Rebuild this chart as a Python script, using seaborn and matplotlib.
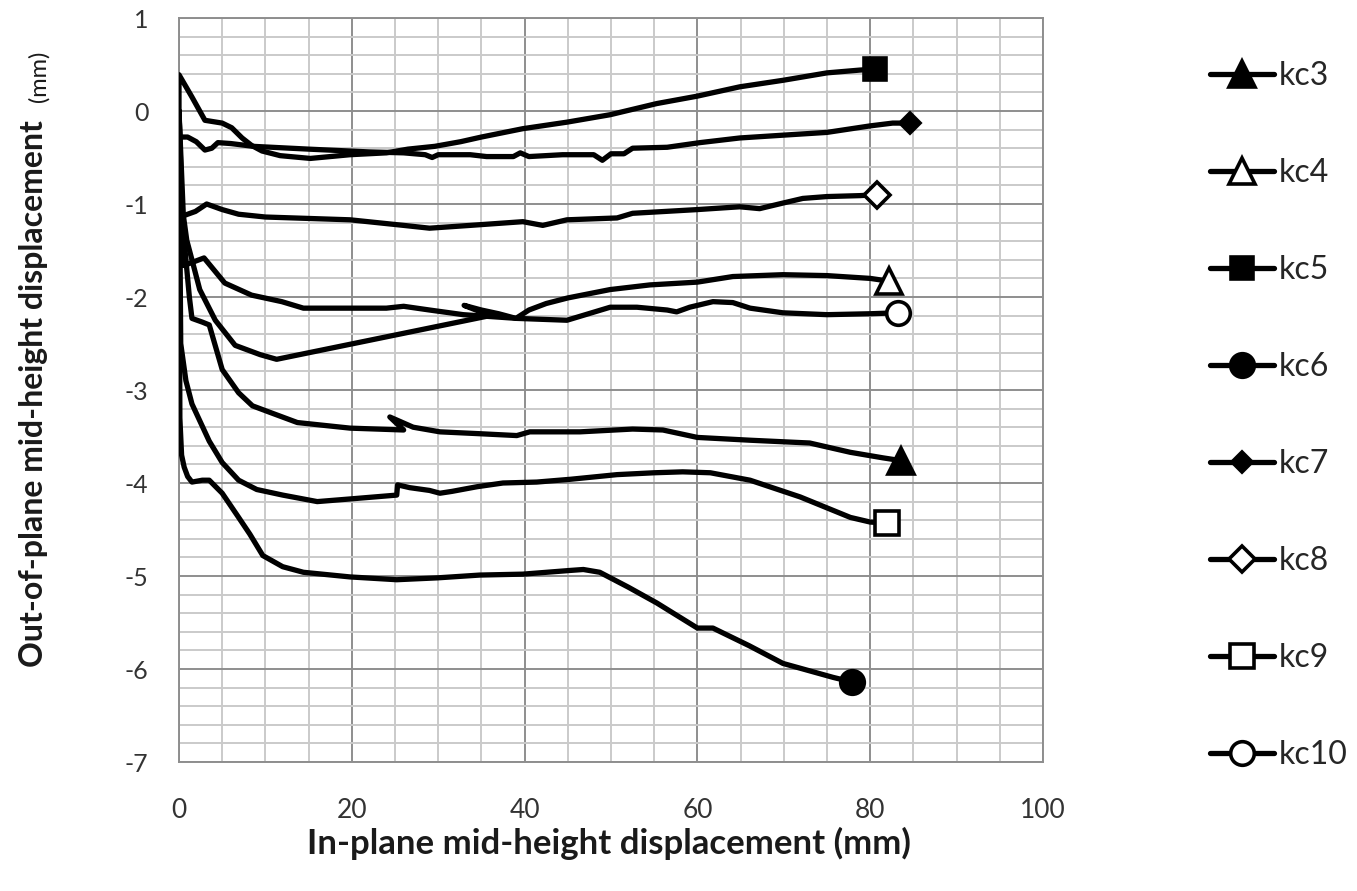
import numpy as np
import pandas as pd
import matplotlib
matplotlib.use("Agg")
import matplotlib.pyplot as plt
import seaborn as sns

# In-plane (x) vs out-of-plane (y) mid-height displacement, mm
kc3_x = [0, 0.4, 0.8, 1.2, 1.5, 2.7, 3.5, 5.0, 6.9, 8.5, 10.8, 13.7, 19.8, 26.0, 24.4, 27.1,
         30.2, 34.8, 39.1, 40.6, 46.4, 52.5, 56.0, 60.0, 66.1, 73.0, 77.7, 81.5, 83.6]
kc3_y = [0, -1.2, -1.6, -2.0, -2.23, -2.27, -2.3, -2.78, -3.03, -3.17, -3.25, -3.35, -3.41, -3.43, -3.29, -3.40,
         -3.45, -3.47, -3.49, -3.45, -3.45, -3.42, -3.43, -3.51, -3.54, -3.57, -3.67, -3.73, -3.76]

kc4_x = [0, 0.5, 0.9, 1.5, 2.4, 4.2, 6.5, 9.4, 11.3, 36.0, 33.0, 35.0, 37.0, 39.0, 40.5, 42.5,
         45.0, 49.9, 54.5, 60.0, 64.1, 69.9, 75.0, 80.0, 82.2]
kc4_y = [0, -1.12, -1.39, -1.6, -1.92, -2.25, -2.52, -2.62, -2.67, -2.2, -2.09, -2.14, -2.18, -2.23, -2.14, -2.07,
         -2.01, -1.92, -1.87, -1.84, -1.78, -1.76, -1.77, -1.80, -1.83]

kc5_x = [0, 0, 1.5, 3.0, 5.0, 6.1, 7.3, 8.4, 9.6, 11.7, 15.2, 19.8, 24.0, 26.5, 29.6, 32.6,
         35.0, 39.8, 44.9, 49.9, 55.3, 60.0, 64.9, 69.9, 75.0, 78.8, 80.5]
kc5_y = [0, 0.39, 0.15, -0.10, -0.13, -0.18, -0.29, -0.37, -0.43, -0.48, -0.51, -0.47, -0.45, -0.41, -0.38, -0.33,
         -0.28, -0.19, -0.12, -0.04, 0.08, 0.16, 0.26, 0.33, 0.41, 0.44, 0.45]

kc6_x = [0, 0.1, 0.3, 0.6, 1.0, 1.5, 2.7, 3.5, 5.0, 6.9, 8.2, 9.7, 12.0, 14.4, 19.8, 25.2,
         29.9, 34.8, 39.8, 45.3, 46.8, 48.7, 52.0, 55.3, 60.0, 61.8, 66.0, 69.9, 75.7, 77.9]
kc6_y = [0, -3.3, -3.7, -3.83, -3.93, -3.99, -3.97, -3.97, -4.11, -4.37, -4.55, -4.78, -4.90, -4.96, -5.01, -5.04,
         -5.02, -4.99, -4.98, -4.94, -4.93, -4.96, -5.12, -5.29, -5.56, -5.56, -5.75, -5.94, -6.09, -6.14]

kc7_x = [0, 0.1, 1.0, 2.0, 3.0, 3.8, 4.5, 6.0, 8.6, 15.0, 22.0, 26.0, 28.5, 29.3, 30.0, 33.7,
         35.6, 38.7, 39.5, 40.5, 44.4, 48.0, 49.0, 50.0, 51.5, 52.5, 56.5, 60.3, 64.9, 69.9,
         75.0, 80.0, 82.6, 84.6]
kc7_y = [0, -0.28, -0.28, -0.33, -0.42, -0.40, -0.34, -0.35, -0.38, -0.41, -0.44, -0.45, -0.47, -0.50, -0.47, -0.47,
         -0.49, -0.49, -0.45, -0.49, -0.47, -0.47, -0.53, -0.46, -0.46, -0.40, -0.39, -0.34, -0.29, -0.26,
         -0.23, -0.16, -0.13, -0.13]

kc8_x = [0, 0.1, 0.7, 1.9, 3.2, 5.0, 6.9, 10.0, 19.8, 26.0, 29.0, 33.7, 39.8, 42.1, 44.9, 50.7,
         52.5, 60.0, 64.9, 67.2, 69.9, 72.2, 75.0, 78.8, 80.8]
kc8_y = [0, -1.12, -1.12, -1.08, -1.00, -1.06, -1.11, -1.14, -1.17, -1.23, -1.26, -1.23, -1.19, -1.23, -1.17, -1.15,
         -1.10, -1.06, -1.03, -1.05, -0.99, -0.94, -0.92, -0.91, -0.90]

kc9_x = [0, 0.2, 0.8, 1.5, 2.5, 3.5, 5.0, 6.9, 9.0, 12.0, 16.0, 20.0, 25.2, 25.3, 26.7, 29.0,
         30.2, 31.6, 34.5, 37.5, 41.4, 45.3, 50.7, 55.0, 58.3, 61.5, 66.1, 71.9, 77.7, 80.0, 81.9]
kc9_y = [0, -2.5, -2.9, -3.15, -3.35, -3.55, -3.78, -3.97, -4.07, -4.13, -4.20, -4.17, -4.13, -4.02, -4.05, -4.08,
         -4.11, -4.09, -4.04, -4.00, -3.99, -3.96, -3.91, -3.89, -3.88, -3.89, -3.97, -4.15, -4.37, -4.42, -4.43]

kc10_x = [0, 0.3, 0.6, 2.9, 5.3, 8.4, 11.9, 14.4, 20.0, 24.0, 26.0, 29.0, 32.9, 36.0, 39.1, 42.0,
          44.9, 49.9, 53.0, 56.5, 57.6, 59.1, 61.8, 64.1, 66.1, 69.9, 75.0, 80.0, 83.2]
kc10_y = [0, -1.66, -1.66, -1.58, -1.85, -1.98, -2.05, -2.12, -2.12, -2.12, -2.10, -2.14, -2.19, -2.21, -2.23, -2.24,
          -2.25, -2.11, -2.11, -2.14, -2.16, -2.11, -2.05, -2.06, -2.12, -2.17, -2.19, -2.18, -2.17]

series_names = ["kc3", "kc4", "kc5", "kc6", "kc7", "kc8", "kc9", "kc10"]
series_x = [kc3_x, kc4_x, kc5_x, kc6_x, kc7_x, kc8_x, kc9_x, kc10_x]
series_y = [kc3_y, kc4_y, kc5_y, kc6_y, kc7_y, kc8_y, kc9_y, kc10_y]

x_tick_labels = ["0", "20", "40", "60", "80", "100"]
y_tick_labels = ["-7", "-6", "-5", "-4", "-3", "-2", "-1", "0", "1"]

# end-point marker style per series: (marker, filled, size)
marker_styles = {
    "kc3": ("^", True, 19),
    "kc4": ("^", False, 19),
    "kc5": ("s", True, 16),
    "kc6": ("o", True, 17),
    "kc7": ("D", True, 10),
    "kc8": ("D", False, 13),
    "kc9": ("s", False, 17),
    "kc10": ("o", False, 17),
}

sns.set_theme(style="white")
plt.rcParams["font.family"] = ["Lato", "DejaVu Sans"]

fig = plt.figure(figsize=(13.57, 8.91), dpi=100)
ax = fig.add_axes([179 / 1357, 1 - 762 / 891, (1043 - 179) / 1357, (762 - 18) / 891])

for name, xs, ys in zip(series_names, series_x, series_y):
    mk, filled, ms = marker_styles[name]
    df = pd.DataFrame({"x": xs, "y": ys})
    sns.lineplot(data=df, x="x", y="y", ax=ax, sort=False, estimator=None,
                 color="black", linewidth=3.8, label=name,
                 marker=mk, markevery=[-1], markersize=ms,
                 markerfacecolor="black" if filled else "white",
                 markeredgecolor="black", markeredgewidth=2.6,
                 solid_joinstyle="round", solid_capstyle="round", zorder=3)

ax.set_xlim(0, 100)
ax.set_ylim(-7, 1)
ax.set_xticks(np.arange(0, 101, 20))
ax.set_xticks(np.arange(0, 101, 5), minor=True)
ax.set_yticks(np.arange(-7, 1.01, 1))
ax.set_yticks(np.arange(-7, 1.01, 0.2), minor=True)
ax.grid(which="minor", color="#cacaca", linewidth=1.4, zorder=0)
ax.grid(which="major", color="#8e8e8e", linewidth=1.4, zorder=0)
ax.set_axisbelow(True)
for sp in ax.spines.values():
    sp.set_color("#8e8e8e")
    sp.set_linewidth(1.4)

ax.tick_params(which="both", length=0)
ax.tick_params(axis="x", pad=26, labelsize=19, labelcolor="#333333")
ax.tick_params(axis="y", pad=22, labelsize=18, labelcolor="#333333")
ax.set_yticklabels(y_tick_labels)
ax.set_xticklabels(x_tick_labels)

ax.set_xlabel("")
ax.set_ylabel("")
fig.text(609 / 1357, 1 - 843 / 891, "In-plane mid-height displacement (mm)",
         ha="center", va="center", fontsize=25, fontweight="bold", color="#1a1a1a")
fig.text(34 / 1357, 1 - 667 / 891, "Out-of-plane mid-height displacement",
         ha="center", va="bottom", rotation=90, fontsize=23, fontweight="bold", color="#1a1a1a")
fig.text(39 / 1357, 1 - 76 / 891, "(mm)",
         ha="center", va="center", rotation=90, fontsize=17, color="#1a1a1a")

handles, labels = ax.get_legend_handles_labels()
if ax.legend_ is not None:
    ax.legend_.remove()
fig.legend(handles, labels, loc="upper left", bbox_to_anchor=(1197 / 1357, 1 - 48 / 891),
           frameon=False, fontsize=23, handlelength=2.0, handletextpad=0.15,
           labelspacing=2.1, borderaxespad=0)

fig.savefig("out.png", dpi=100)
